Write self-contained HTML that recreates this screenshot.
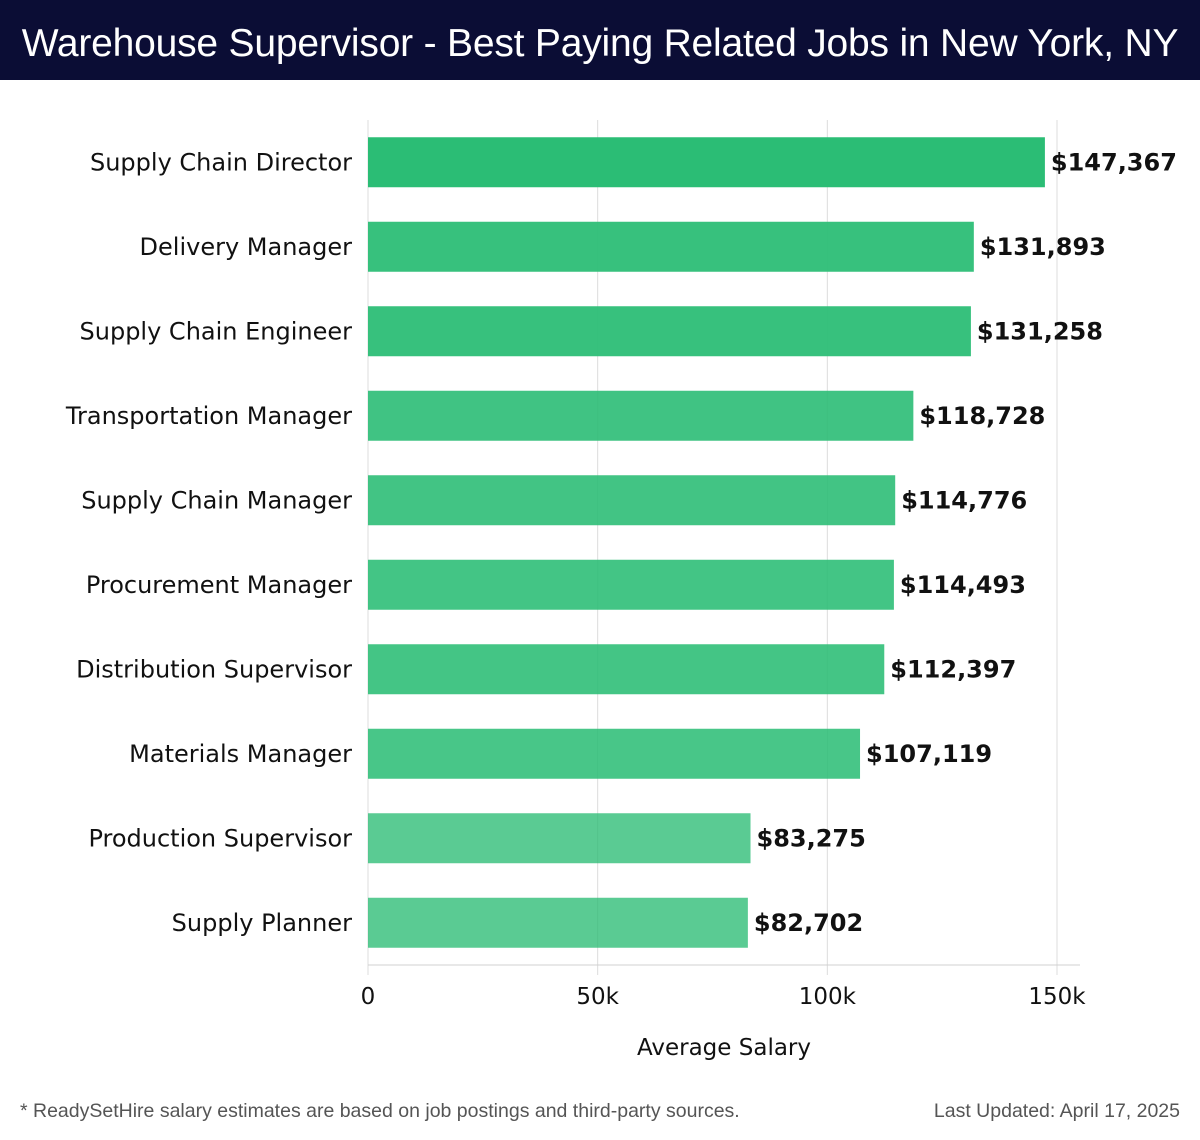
<!DOCTYPE html>
<html><head><meta charset="utf-8"><style>
body{margin:0;width:1200px;height:1140px;background:#fff;font-family:"Liberation Sans","DejaVu Sans",sans-serif;overflow:hidden;position:relative}
#hdr{position:absolute;left:0;top:0;width:1200px;height:80px;background:#0b0d35;color:#fff;font-size:39px;line-height:88px;text-align:center;letter-spacing:-0.2px}
.ft{position:absolute;top:1100px;font-size:19.5px;color:#555}
svg text{font-family:"DejaVu Sans","Liberation Sans",sans-serif}
</style></head><body>
<div id="hdr">Warehouse Supervisor - Best Paying Related Jobs in New York, NY</div>
<svg id="chart" width="1200" height="1140" style="position:absolute;left:0;top:0"></svg>
<div class="ft" style="left:20px">* ReadySetHire salary estimates are based on job postings and third-party sources.</div>
<div class="ft" style="right:20px">Last Updated: April 17, 2025</div>
<script>
const categories=["Supply Chain Director","Delivery Manager","Supply Chain Engineer","Transportation Manager","Supply Chain Manager","Procurement Manager","Distribution Supervisor","Materials Manager","Production Supervisor","Supply Planner"];
const salaries=[147367,131893,131258,118728,114776,114493,112397,107119,83275,82702];
const valueLabels=["$147,367","$131,893","$131,258","$118,728","$114,776","$114,493","$112,397","$107,119","$83,275","$82,702"];
const ticks=[0,50000,100000,150000];
const tickLabels=["0","50k","100k","150k"];
const NS="http://www.w3.org/2000/svg";
const svg=document.getElementById('chart');
const x0=368,x1=1057,xMax=150000,top0=120,axisY=965;
const xs=v=>x0+(x1-x0)*v/xMax;
const band=(axisY-top0)/categories.length;
const yc=i=>top0+band*(i+0.5);
function mk(t,a){const e=document.createElementNS(NS,t);for(const k in a)e.setAttribute(k,a[k]);svg.appendChild(e);return e;}
ticks.forEach((t,i)=>{
 const g=mk('line',{x1:xs(t),x2:xs(t),y1:top0,y2:975,stroke:'#dcdcdc','stroke-width':1});
 
 
 const tl=mk('text',{x:xs(t),y:1004,'text-anchor':'middle','font-size':23,fill:'#111'});
 tl.textContent=tickLabels[i];
 
 
});
const ax=mk('line',{x1:x0,x2:1080,y1:axisY,y2:axisY,stroke:'#d0d0d0','stroke-width':1});


const mn=Math.min(...salaries),mxv=Math.max(...salaries);
categories.forEach((c,i)=>{
 const v=salaries[i],y=yc(i);
 const op=0.78+0.22*(v-mn)/(mxv-mn);
 const r=mk('rect',{x:x0,y:y-25,width:xs(v)-x0,height:50,fill:'#2bbd75','fill-opacity':op.toFixed(3)});
 
 
 const l=mk('text',{x:352,y:y+8,'text-anchor':'end','font-size':24,fill:'#111'});
 l.textContent=c;
 
 
 const vl=mk('text',{x:xs(v)+6,y:y+8,'font-size':24,'font-weight':'bold',fill:'#111'});
 vl.textContent=valueLabels[i];
 
 
});
const at=mk('text',{x:724,y:1055,'text-anchor':'middle','font-size':23,fill:'#111'});
at.textContent='Average Salary';


</script>
</body></html>
